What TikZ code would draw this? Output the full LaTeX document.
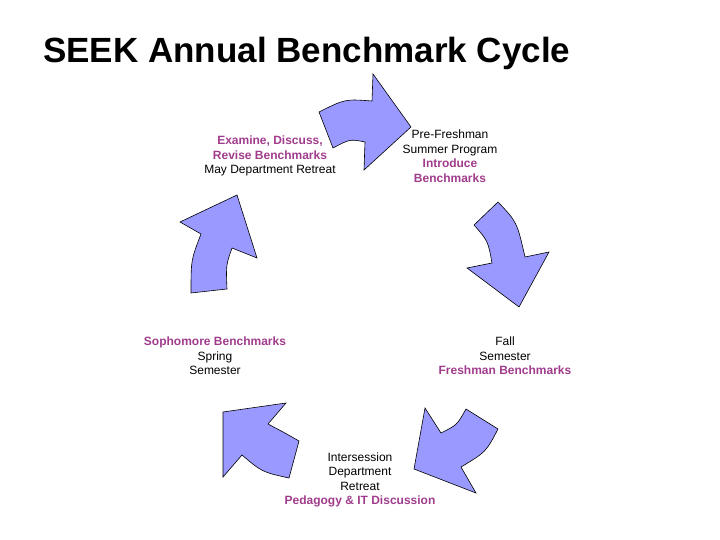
\documentclass[tikz,border=0pt]{standalone}
\usepackage{fontspec}
\setmainfont{Liberation Sans}
\definecolor{arr}{HTML}{9999FF}
\definecolor{mag}{HTML}{A03C8C}
\begin{document}
\begin{tikzpicture}[x=1pt,y=-1pt,
  arrowshape/.style={fill=arr,draw=black,line width=0.6pt,line join=miter},
  lbl/.style={align=center,font=\fontsize{12}{14.5}\selectfont,inner sep=0pt},
  hl/.style={font=\bfseries,text=mag}]
\useasboundingbox (0,0) rectangle (720,540);
\node[anchor=base west,font=\fontsize{35}{38}\selectfont\bfseries,inner sep=0pt] (title) at (43,63) {SEEK Annual Benchmark Cycle};
% arrow 1 top
\draw[arrowshape] (319,112) -- (333,148) .. controls (350,139) .. (365,142) -- (364,170) -- (411,127) -- (373,74) -- (372,101) .. controls (345,99) .. cycle;
% arrow 2 right
\draw[arrowshape] (474,225) -- (498,202) .. controls (517,222) .. (525,257) -- (549,252) -- (519,307) -- (467,268) -- (492,263) .. controls (488,241) .. cycle;
% arrow 3 bottom right
\draw[arrowshape] (466,409) .. controls (457,425) .. (441,433) -- (425,408) -- (414,469) -- (476,493) -- (461,467) .. controls (486,452) .. (498,429) -- cycle;
% arrow 4 bottom left
\draw[arrowshape] (223,412) -- (286,403) -- (268,424) .. controls (285,433) .. (299,441) -- (289,478) .. controls (262,472) .. (242,455) -- (223,477) -- cycle;
% arrow 5 left
\draw[arrowshape] (191,293) -- (227,289) .. controls (226,265) .. (232,248) -- (257,258) -- (237,195) -- (180,222) -- (201,234) .. controls (191,260) .. cycle;
\node[lbl] (may) at (270,156) {{\color{mag}\bfseries Examine, Discuss,}\\{\color{mag}\bfseries Revise Benchmarks}\\May Department Retreat};
\node[lbl] (pre) at (450,156) {Pre-Freshman\\Summer Program\\{\color{mag}\bfseries Introduce}\\{\color{mag}\bfseries Benchmarks}};
\node[lbl] (soph) at (215,356) {{\color{mag}\bfseries Sophomore Benchmarks}\\Spring\\Semester};
\node[lbl] (fall) at (505,356) {Fall\\Semester\\{\color{mag}\bfseries Freshman Benchmarks}};
\node[lbl] (inter) at (360,480) {Intersession\\Department\\Retreat\\{\color{mag}\bfseries Pedagogy \& IT Discussion}};
\end{tikzpicture}
\end{document}
